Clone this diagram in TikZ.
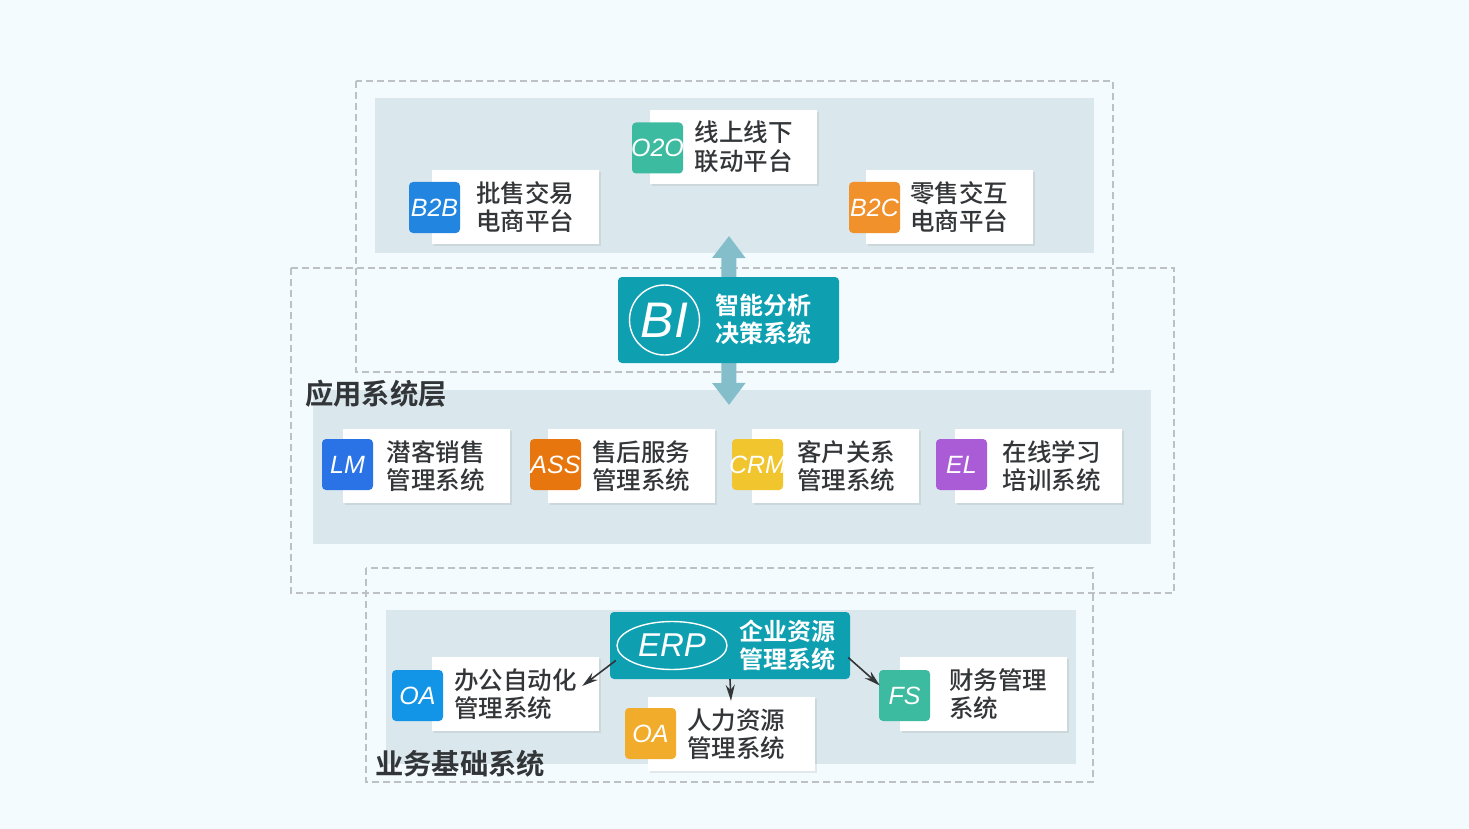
\documentclass[tikz,border=0pt]{standalone}
\usepackage{fontspec}
\setmainfont{Liberation Sans}
\newfontfamily\cjk{Noto Sans CJK SC Medium}
\newfontfamily\cjkbold{Noto Sans CJK SC Bold}
\usetikzlibrary{calc}
\usetikzlibrary{shadows}
\usetikzlibrary{arrows.meta}
\usetikzlibrary{shapes.geometric}
\definecolor{pagebg}{HTML}{F3FBFE}
\definecolor{panelbg}{HTML}{DAE7ED}
\definecolor{dashgray}{HTML}{BDC1C4}
\definecolor{tealbox}{HTML}{0E9FB1}
\definecolor{bigarrowc}{HTML}{85BECB}
\definecolor{inkc}{HTML}{333638}
\definecolor{greenbadge}{HTML}{3CBBA0}
\definecolor{blueb}{HTML}{2285E0}
\definecolor{orangeb}{HTML}{F0912B}
\definecolor{bluelm}{HTML}{2A73E6}
\definecolor{orangeass}{HTML}{E8760F}
\definecolor{yellowcrm}{HTML}{F0C52E}
\definecolor{purpleel}{HTML}{AA5CD6}
\definecolor{blueoa}{HTML}{1295E6}
\definecolor{amberoa}{HTML}{F2AC2C}
\tikzstyle{dashbox} = [draw=dashgray, line width=1.3pt, dash pattern=on 7pt off 4pt]
\tikzstyle{panel} = [fill=panelbg, draw=none, inner sep=0pt]
\tikzstyle{card} = [fill=white, draw=none, inner sep=0pt, minimum width=167pt, minimum height=74pt, drop shadow={shadow xshift=2pt, shadow yshift=-2pt, opacity=.15}]
\tikzstyle{badge} = [rounded corners=4pt, inner sep=0pt, minimum width=51pt, minimum height=51pt, text=white, font=\fontsize{25}{25}\selectfont\itshape]
\tikzstyle{cardtext} = [anchor=west, inner sep=0pt, align=left, text=inkc, font=\cjk\fontsize{24.5}{28.5}\selectfont]
\tikzstyle{tealbody} = [fill=tealbox, rounded corners=4pt, inner sep=0pt]
\tikzstyle{tealtext} = [inner sep=0pt, align=left, text=white, font=\cjkbold\fontsize{24}{28}\selectfont]
\tikzstyle{layertext} = [inner sep=0pt, text=inkc, font=\cjkbold\fontsize{28.3}{28.3}\selectfont]
\tikzstyle{bigarrow} = [draw=bigarrowc, line width=15pt, -{Triangle[length=22pt, width=32pt]}]
\tikzstyle{thinarrow} = [draw=inkc, line width=1.6pt, -{Stealth[length=16pt, width=9pt]}]

\begin{document}
\begin{tikzpicture}[x=1pt, y=-1pt]
    \fill[pagebg] (0,0) rectangle (1469,829);
    \useasboundingbox (0,0) rectangle (1469,829);

    \node[panel, minimum width=719pt, minimum height=155pt] (top_panel) at (734.5,175.5) {};
    \node[panel, minimum width=838pt, minimum height=154pt] (app_panel) at (732,467) {};
    \node[panel, minimum width=690pt, minimum height=154pt] (base_panel) at (731,687) {};

    \draw[dashbox] (356,81) rectangle (1113,372);
    \draw[dashbox] (291,268) rectangle (1174,593);
    \draw[dashbox] (366,568) rectangle (1093,782);

    \node[card] (o2o) at (733.5,147) {};
    \node[badge, fill=greenbadge] (o2o_badge) at ($(o2o)+(-76,1)$) {\makebox[0pt]{O2O}};
    \node[cardtext] (o2o_text) at ($(o2o)+(-39,0)$) {线上线下\\联动平台};

    \node[card] (b2b) at (515.5,207) {};
    \node[badge, fill=blueb] (b2b_badge) at ($(b2b)+(-81,0.5)$) {B2B};
    \node[cardtext] (b2b_text) at ($(b2b)+(-39.5,0)$) {批售交易\\电商平台};

    \node[card] (b2c) at (949.5,207) {};
    \node[badge, fill=orangeb] (b2c_badge) at ($(b2c)+(-75,0.5)$) {B2C};
    \node[cardtext] (b2c_text) at ($(b2c)+(-39.5,0)$) {零售交互\\电商平台};

    \node[card] (lm) at (426,466) {};
    \node[badge, fill=bluelm] (lm_badge) at ($(lm)+(-78.5,-1.5)$) {LM};
    \node[cardtext] (lm_text) at ($(lm)+(-39.5,0)$) {潜客销售\\管理系统};

    \node[card] (ass) at (631.5,466) {};
    \node[badge, fill=orangeass] (ass_badge) at ($(ass)+(-76,-1.5)$) {ASS};
    \node[cardtext] (ass_text) at ($(ass)+(-39.5,0)$) {售后服务\\管理系统};

    \node[card] (crm) at (835.5,466) {};
    \node[badge, fill=yellowcrm] (crm_badge) at ($(crm)+(-78,-1.5)$) {\makebox[0pt]{CRM}};
    \node[cardtext] (crm_text) at ($(crm)+(-38.5,0)$) {客户关系\\管理系统};

    \node[card] (el) at (1038.5,466) {};
    \node[badge, fill=purpleel] (el_badge) at ($(el)+(-77,-1.5)$) {EL};
    \node[cardtext] (el_text) at ($(el)+(-36,0)$) {在线学习\\培训系统};

    \node[card] (oa_auto) at (515.5,694) {};
    \node[badge, fill=blueoa] (oa_auto_badge) at ($(oa_auto)+(-98,1.5)$) {OA};
    \node[cardtext] (oa_auto_text) at ($(oa_auto)+(-61.5,0)$) {办公自动化\\管理系统};

    \node[card] (oa_hr) at (731,734) {};
    \node[badge, fill=amberoa] (oa_hr_badge) at ($(oa_hr)+(-80.5,-0.5)$) {OA};
    \node[cardtext] (oa_hr_text) at ($(oa_hr)+(-44,0)$) {人力资源\\管理系统};

    \node[card] (fs) at (983,694) {};
    \node[badge, fill=greenbadge] (fs_badge) at ($(fs)+(-78.5,1.5)$) {FS};
    \node[cardtext] (fs_text) at ($(fs)+(-34,0)$) {财务管理\\系统};

    \coordinate (bi_up_tip) at (729,236);
    \coordinate (bi_down_tip) at (729,405);
    \coordinate (bi_center) at (728.5,320);
    \draw[bigarrow] (bi_center) -- (bi_up_tip);
    \draw[bigarrow] (bi_center) -- (bi_down_tip);

    \node[tealbody, minimum width=221pt, minimum height=86pt] (bi) at (bi_center) {};
    \node[draw=white, line width=1.4pt, circle, minimum size=70pt, inner sep=0pt, text=white, font=\fontsize{50}{50}\selectfont\itshape] (bi_circle) at ($(bi)+(-64,0)$) {BI};
    \node[tealtext] (bi_text) at ($(bi)+(34.5,-1)$) {智能分析\\决策系统};

    \node[tealbody, minimum width=240pt, minimum height=67pt] (erp) at (730,645.5) {};
    \node[draw=white, line width=1.4pt, ellipse, minimum width=110pt, minimum height=48pt, inner sep=0pt, text=white, font=\fontsize{33}{33}\selectfont\itshape] (erp_circle) at ($(erp)+(-58,0)$) {ERP};
    \node[tealtext] (erp_text) at ($(erp)+(57,0)$) {企业资源\\管理系统};

    \draw[thinarrow] ($(erp.west)+(6,15)$) -- ($(oa_auto.east)+(-17,-8)$);
    \draw[thinarrow] (erp.south) -- ($(oa_hr.north)+(0,4)$);
    \draw[thinarrow] ($(erp.east)+(-2,12)$) -- ($(fs_badge.west)+(1,-10)$);

    \node[layertext] (app_label) at (376,394) {应用系统层};
    \node[layertext] (base_label) at (460,764) {业务基础系统};
\end{tikzpicture}
\end{document}
